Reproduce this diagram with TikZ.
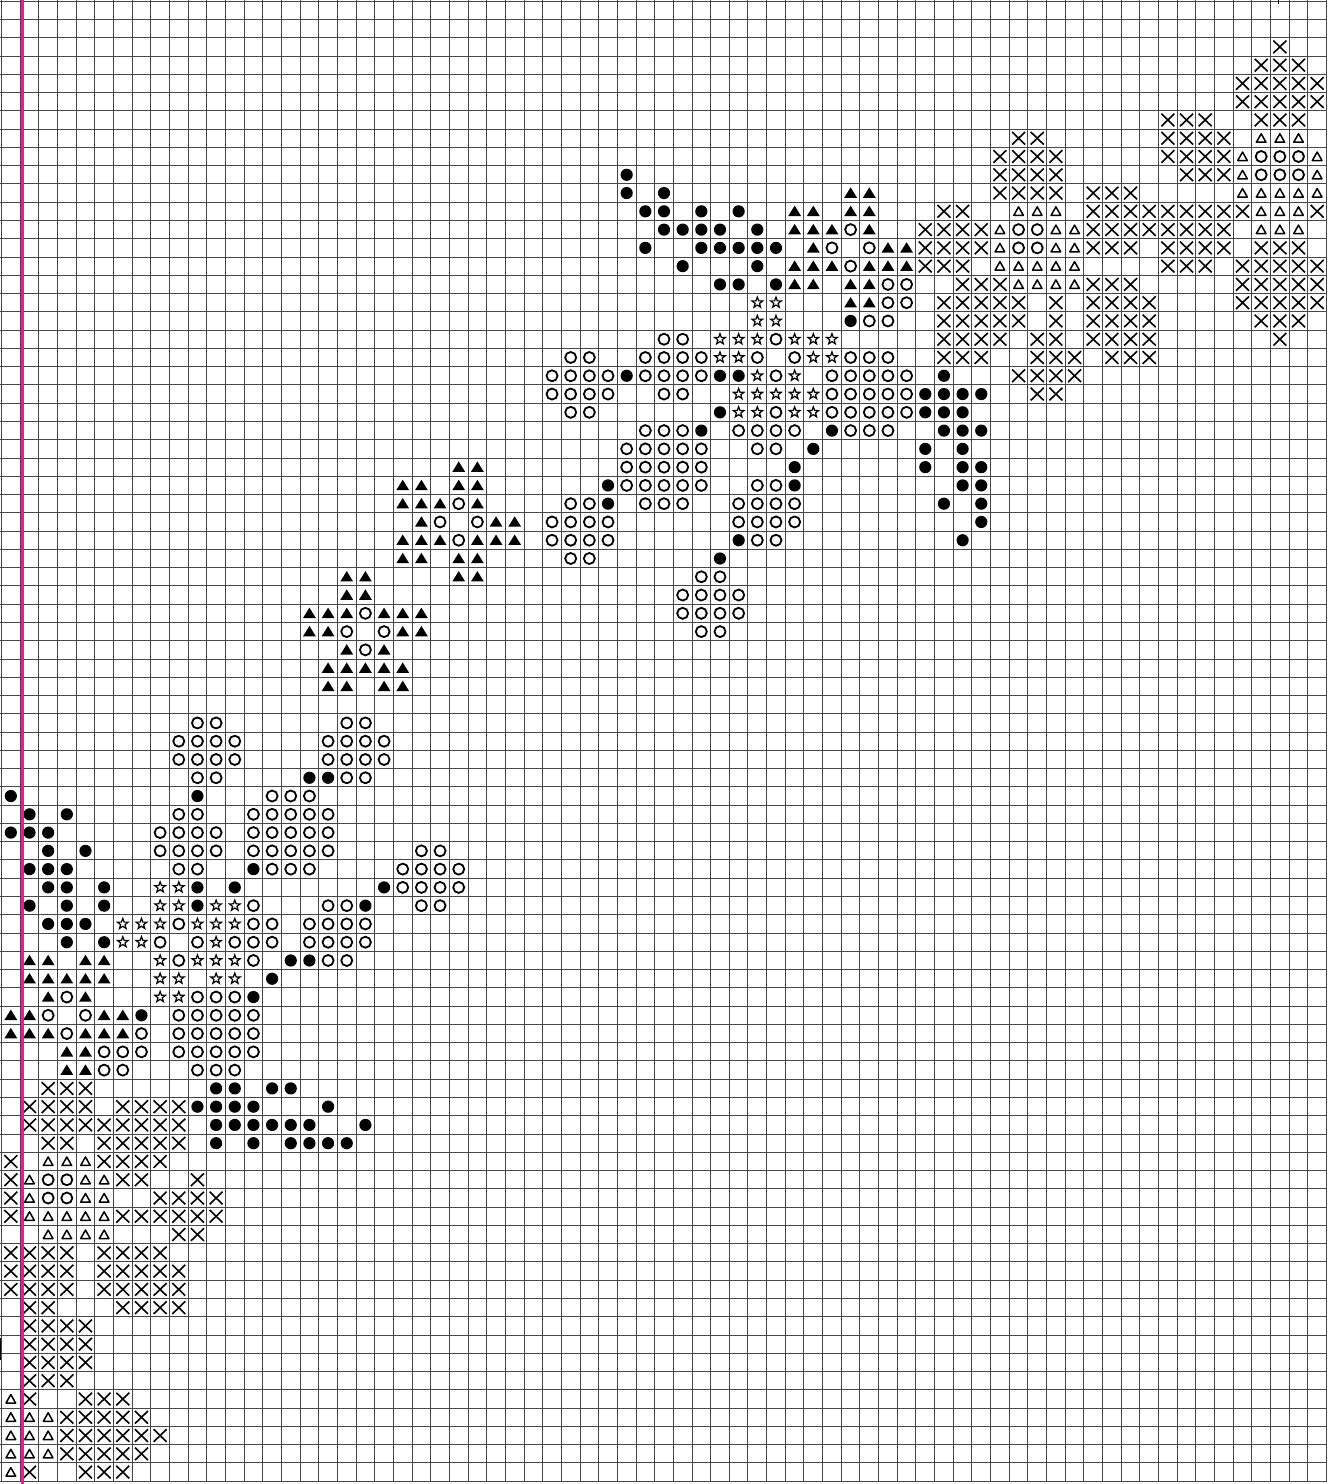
\documentclass[tikz,border=0pt]{standalone}
\definecolor{pinkline}{RGB}{228,32,140}
\tikzset{
  gridline/.style={line width=0.5pt, black!72},
  crs/.pic={\draw[line width=0.8pt] (-6.5,-6.3)--(6.5,6.3) (-6.5,6.3)--(6.5,-6.3);},
  ocirc/.pic={\draw[line width=0.9pt] (0,0) circle[radius=5.5];},
  fdot/.pic={\fill (0,0) circle[radius=6.1];},
  ftri/.pic={\fill (-6.4,4.7)--(6.4,4.7)--(0,-5.7)--cycle;},
  otri/.pic={\draw[line width=0.75pt,line join=round] (-4.8,4.0)--(4.8,4.0)--(0,-4.5)--cycle;},
  ostar/.pic={\draw[line width=0.6pt,line join=miter] (270:5.6)--(306:2.3)--(342:5.6)--(18:2.3)--(54:5.6)--(90:2.3)--(126:5.6)--(162:2.3)--(198:5.6)--(234:2.3)--cycle;}
}
\newcommand\xstitch[2]{%
  \foreach \r/\cl in {#2}{\foreach \c in \cl {\pic at ({1.5+(\c+0.5)*18.662},{1.2+(\r+0.5)*18.272}) {#1};}}}
\begin{document}
\begin{tikzpicture}[x=0.5pt,y=-0.5pt]
\useasboundingbox (0,0) rectangle (1335,1484);
\fill[white] (0,0) rectangle (1335,1484);
% grid
\foreach \i in {0,...,71} \draw[gridline] ({1.5+\i*18.662},0) -- ({1.5+\i*18.662},1481.2);
\foreach \j in {0,...,81} \draw[gridline] (0,{1.2+\j*18.272}) -- (1326.5,{1.2+\j*18.272});
% crosses
\xstitch{crs}{2/{68},3/{67,68,69},4/{66,67,68,69,70},5/{66,67,68,69,70},6/{62,63,64,67,68,69},7/{54,55,62,63,64,65},8/{53,54,55,56,62,63,64,65},9/{53,54,55,56,63,64,65},10/{53,54,55,56,58,59,60},11/{50,51,58,59,60,61,62,63,64,65,66,70},12/{49,50,51,52,58,59,60,61,62,63,64,65},13/{49,50,51,52,58,59,60,62,63,64,65,67,68,69},14/{49,50,51,62,63,64,66,67,68,69,70},15/{51,52,53,58,59,60,66,67,68,69,70},16/{50,51,52,53,54,56,58,59,60,61,66,67,68,69,70},17/{50,51,52,53,54,56,58,59,60,61,67,68,69},18/{50,51,52,53,55,56,58,59,60,61,68},19/{50,51,52,55,56,57,59,60,61},20/{54,55,56,57},21/{55,56},59/{2,3,4},60/{1,2,3,4,6,7,8,9},61/{1,2,3,4,5,6,7,8,9},62/{2,3,5,6,7,8,9},63/{0,5,6,7,8},64/{0,6,7,10},65/{0,8,9,10,11},66/{0,6,7,8,9,10,11},67/{9,10},68/{0,1,2,3,5,6,7,8},69/{0,1,2,3,5,6,7,8,9},70/{0,1,2,3,5,6,7,8,9},71/{1,2,6,7,8,9},72/{1,2,3,4},73/{1,2,3,4},74/{1,2,3,4},75/{1,2,3},76/{1,4,5,6},77/{3,4,5,6,7},78/{3,4,5,6,7,8},79/{3,4,5,6,7},80/{1,4,5,6}}
% open triangles
\xstitch{otri}{7/{67,68,69},8/{66,70},9/{66,70},10/{66,67,68,69,70},11/{54,55,56,67,68,69},12/{53,56,57,67,68,69},13/{53,56,57},14/{53,54,55,56,57},15/{54,55,56,57},63/{2,3,4},64/{1,4,5},65/{1,4,5},66/{1,2,3,4,5},67/{2,3,4,5},76/{0},77/{0,1,2},78/{0,1,2},79/{0,1,2},80/{0}}
% open circles
\xstitch{ocirc}{8/{67,68,69},9/{67,68,69},12/{45,54,55},13/{44,46,54,55},14/{45},15/{47,48},16/{47,48},17/{46,47},18/{35,36,41},19/{30,31,34,35,36,37,40,42,45,46,47},20/{29,30,31,32,34,35,36,37,41,44,45,46,47,48},21/{29,30,31,32,35,36,44,45,46,47,48},22/{30,31,41,44,45,46,47,48},23/{34,35,36,39,40,41,42,45,46,47},24/{33,34,35,36,37,40,41},25/{33,34,35,36,37},26/{33,34,35,36,37,40,41},27/{24,30,31,34,35,36,39,40,41,42},28/{23,25,29,30,31,32,39,40,41,42},29/{24,29,30,31,32,40,41},30/{30,31},31/{37,38},32/{36,37,38,39},33/{19,36,37,38,39},34/{18,20,37,38},35/{19},39/{10,11,18,19},40/{9,10,11,12,17,18,19,20},41/{9,10,11,12,17,18,19,20},42/{10,11,18,19},43/{14,15,16},44/{9,10,13,14,15,16,17},45/{8,9,10,11,13,14,15,16,17},46/{8,9,10,11,13,14,15,16,17,22,23},47/{9,10,14,15,16,21,22,23,24},48/{21,22,23,24},49/{13,17,18,22,23},50/{9,13,14,16,17,18,19},51/{8,10,12,13,14,16,17,18,19},52/{9,13,17,18},54/{3,10,11,12},55/{2,4,9,10,11,12,13},56/{3,7,9,10,11,12,13},57/{5,6,7,9,10,11,12,13},58/{5,6,10,11,12},64/{2,3},65/{2,3}}
% filled dots
\xstitch{fdot}{9/{33},10/{33,35},11/{34,35,37,39},12/{35,36,37,38,40},13/{34,37,38,39,40,41},14/{36,40},15/{38,39,41},17/{45},20/{33,38,39,50},21/{49,50,51,52},22/{38,49,50,51},23/{37,44,50,51,52},24/{43,49,51},25/{42,49,51,52},26/{32,42,51,52},27/{32,50,52},28/{52},29/{39,51},30/{38},42/{16,17},43/{0,10},44/{1,3},45/{0,1,2},46/{2,4},47/{1,2,3,13},48/{2,3,5,10,12,20},49/{1,3,5,10,19},50/{2,3,4},51/{3,5},52/{15,16},53/{14},54/{13},55/{7},59/{11,12,14,15},60/{10,11,12,13,17},61/{11,12,13,14,15,16,19},62/{11,13,15,16,17,18}}
% filled triangles
\xstitch{ftri}{10/{45,46},11/{42,43,45,46},12/{42,43,44,46},13/{43,47,48},14/{42,43,44,46,47,48},15/{42,43,45,46},16/{45,46},25/{24,25},26/{21,22,24,25},27/{21,22,23,25},28/{22,26,27},29/{21,22,23,25,26,27},30/{21,22,24,25},31/{18,19,24,25},32/{18,19},33/{16,17,18,20,21,22},34/{16,17,21,22},35/{18,20},36/{17,18,19,20,21},37/{17,18,20,21},52/{1,2,4,5},53/{1,2,3,4,5},54/{2,4},55/{0,1,5,6},56/{0,1,2,4,5,6},57/{3,4},58/{3,4}}
% stars
\xstitch{ostar}{16/{40,41},17/{40,41},18/{38,39,40,42,43,44},19/{38,39,43,44},20/{40,42},21/{39,40,41,42,43},22/{39,40,42,43},48/{8,9},49/{8,9,11,12},50/{6,7,8,10,11,12},51/{6,7,11},52/{8,10,11,12},53/{8,9,11,12},54/{8,9}}
% pink line and edge ticks
\draw[pinkline,line width=1.3pt] (22.4,0) -- (22.4,1484);
\draw[line width=0.6pt] (1278.5,0) -- (1278.5,4);
\draw[line width=0.7pt] (0.8,1338) -- (0.8,1360);
\end{tikzpicture}
\end{document}
